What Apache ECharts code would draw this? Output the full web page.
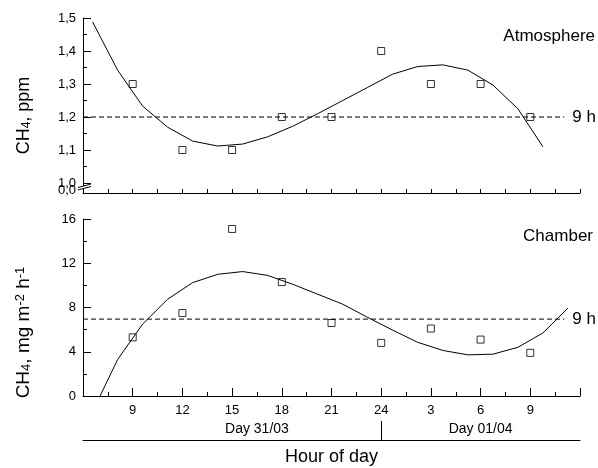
<!DOCTYPE html>
<html><head><meta charset="utf-8">
<script src="https://cdn.jsdelivr.net/npm/echarts@6/dist/echarts.min.js"></script>
<style>html,body{margin:0;padding:0;background:#fff}#c{width:598px;height:468px}</style>
</head><body><div id="c"></div>
<script>
// ---- data ----
const hours = [9, 12, 15, 18, 21, 24, 27, 30, 33];
const hourTickLabels = ['9', '12', '15', '18', '21', '24', '3', '6', '9'];
const atmValues = [1.3, 1.1, 1.1, 1.2, 1.2, 1.4, 1.3, 1.3, 1.2];
const chamberValues = [5.3, 7.5, 15.1, 10.3, 6.6, 4.8, 6.1, 5.1, 3.9];
const atmFitHours = [6.58, 8.09, 9.6, 11.11, 12.62, 14.13, 15.64, 17.15, 18.66, 20.17, 21.68, 23.19, 24.7, 26.21, 27.72, 29.23, 30.74, 32.25, 33.76];
const atmFit = [1.488, 1.342, 1.233, 1.169, 1.127, 1.112, 1.118, 1.140, 1.172, 1.21, 1.25, 1.29, 1.33, 1.353, 1.358, 1.342, 1.297, 1.225, 1.11];
const chamberFitHours = [7.03, 8.09, 9.6, 11.11, 12.62, 14.13, 15.64, 17.15, 18.66, 20.17, 21.68, 23.19, 24.7, 26.21, 27.72, 29.23, 30.74, 32.25, 33.76, 35.27];
const chamberFit = [0, 3.3, 6.5, 8.75, 10.25, 11.0, 11.25, 10.9, 10.1, 9.2, 8.3, 7.1, 5.95, 4.85, 4.12, 3.72, 3.78, 4.4, 5.7, 7.95];
const refHours = [6, 35.05];
const atmRef = 1.2;
const chamberRef = 6.95;
const refLabel = '9 h';
const atmYLabels = [1.0, 1.1, 1.2, 1.3, 1.4, 1.5];
const atmYMinorTicks = [1.05, 1.15, 1.25, 1.35, 1.45];
const atmYBase = 0.9697;
const atmYBaseLabel = '0,0';
const dayLabels = ['Day 31/03', 'Day 01/04'];
const dayLabelHours = [16.5, 30];
const dayBoundary = 24;

const FONT = "'Liberation Sans', Arial, sans-serif";
const zip = (a, b) => a.map((v, i) => [v, b[i]]);
const black = '#000';
const lineAx = { show: true, lineStyle: { color: black, width: 1 } };

const chart = echarts.init(document.getElementById('c'));
const option = {
  animation: false,
  textStyle: { fontFamily: FONT, color: black },
  title: [
    { text: 'Atmosphere', right: 3, top: 28, padding: 0, textStyle: { fontFamily: FONT, fontSize: 17, fontWeight: 'normal', color: black } },
    { text: 'Chamber', right: 5, top: 228, padding: 0, textStyle: { fontFamily: FONT, fontSize: 17, fontWeight: 'normal', color: black } }
  ],
  grid: [
    { left: 83, right: 18, top: 18, height: 175 },
    { left: 83, right: 18, top: 219, height: 177 }
  ],
  xAxis: [
    { type: 'value', gridIndex: 0, min: 6, max: 36, interval: 1.5, axisLine: lineAx,
      axisTick: { inside: true, length: 4, lineStyle: { color: black } }, axisLabel: { show: false }, splitLine: { show: false } },
    { type: 'value', gridIndex: 1, min: 6, max: 36, interval: 3, axisLine: lineAx,
      axisTick: { inside: true, length: 8, lineStyle: { color: black } },
      minorTick: { show: true, splitNumber: 2, length: 4, lineStyle: { color: black } },
      axisLabel: { showMinLabel: false, showMaxLabel: false, fontFamily: FONT, fontSize: 13, color: black, margin: 8,
        formatter: v => { const i = hours.indexOf(v); return i >= 0 ? hourTickLabels[i] : ''; } },
      splitLine: { show: false } },
    { type: 'value', gridIndex: 1, min: 6, max: 36, position: 'bottom', offset: 44, axisLine: lineAx,
      axisTick: { show: true, inside: true, length: 19, customValues: [dayBoundary], lineStyle: { color: black } },
      axisLabel: { inside: true, customValues: dayLabelHours, fontFamily: FONT, fontSize: 14, color: black, margin: 4,
        formatter: v => dayLabels[dayLabelHours.indexOf(v)] },
      splitLine: { show: false },
      name: 'Hour of day', nameLocation: 'middle', nameGap: 8,
      nameTextStyle: { fontFamily: FONT, fontSize: 18, color: black, verticalAlign: 'top' } }
  ],
  yAxis: [
    { type: 'value', gridIndex: 0, position: 'left', min: atmYBase, max: 1.5, axisLine: lineAx,
      axisTick: { inside: true, length: 8, customValues: atmYLabels, lineStyle: { color: black } },
      axisLabel: { customValues: atmYLabels, fontFamily: FONT, fontSize: 13, color: black, margin: 7,
        formatter: v => v.toFixed(1).replace('.', ',') },
      splitLine: { show: false },
      name: 'CH{sub|4}, ppm', nameLocation: 'middle', nameGap: 50, nameRotate: 90,
      nameTextStyle: { fontFamily: FONT, fontSize: 18, color: black, padding: [0, 20, 0, 0],
        rich: { sub: { fontFamily: FONT, fontSize: 12, verticalAlign: 'bottom', lineHeight: 12 } } } },
    { type: 'value', gridIndex: 0, position: 'left', offset: 0, min: atmYBase, max: 1.5, axisLine: { show: false },
      axisTick: { inside: true, length: 4, customValues: atmYMinorTicks, lineStyle: { color: black } },
      axisLabel: { customValues: [0.9788], formatter: () => atmYBaseLabel, fontFamily: FONT, fontSize: 13, color: black, margin: 7 },
      splitLine: { show: false } },
    { type: 'value', gridIndex: 1, min: 0, max: 16, interval: 4, axisLine: lineAx,
      axisTick: { inside: true, length: 8, lineStyle: { color: black } },
      minorTick: { show: true, splitNumber: 2, length: 4, lineStyle: { color: black } },
      axisLabel: { fontFamily: FONT, fontSize: 13, color: black, margin: 7 },
      splitLine: { show: false },
      name: 'CH{sub|4}, mg m{sup|-2} h{sup|-1}', nameLocation: 'middle', nameGap: 50, nameRotate: 90,
      nameTextStyle: { fontFamily: FONT, fontSize: 19, color: black, padding: [0, 50, 0, 0],
        rich: { sub: { fontFamily: FONT, fontSize: 13, verticalAlign: 'bottom', lineHeight: 12 },
                sup: { fontFamily: FONT, fontSize: 13, verticalAlign: 'top', lineHeight: 12 } } } }
  ],
  series: [
    { type: 'line', xAxisIndex: 0, yAxisIndex: 0, data: zip(atmFitHours, atmFit), symbol: 'none',
      lineStyle: { color: black, width: 1 }, z: 2 },
    { type: 'line', xAxisIndex: 0, yAxisIndex: 0, data: zip(refHours, [atmRef, atmRef]), symbol: 'none',
      lineStyle: { color: black, width: 1, type: [5, 3] },
      endLabel: { show: true, formatter: refLabel, fontFamily: FONT, fontSize: 17, color: black, distance: 8 }, z: 2 },
    { type: 'scatter', xAxisIndex: 0, yAxisIndex: 0, data: zip(hours, atmValues), symbol: 'rect', symbolSize: 7,
      itemStyle: { color: 'rgba(0,0,0,0)', borderColor: black, borderWidth: 1 }, z: 3 },
    { type: 'line', xAxisIndex: 1, yAxisIndex: 2, data: zip(chamberFitHours, chamberFit), symbol: 'none',
      lineStyle: { color: black, width: 1 }, z: 2 },
    { type: 'line', xAxisIndex: 1, yAxisIndex: 2, data: zip(refHours, [chamberRef, chamberRef]), symbol: 'none',
      lineStyle: { color: black, width: 1, type: [5, 3] },
      endLabel: { show: true, formatter: refLabel, fontFamily: FONT, fontSize: 17, color: black, distance: 8 }, z: 2 },
    { type: 'scatter', xAxisIndex: 1, yAxisIndex: 2, data: zip(hours, chamberValues), symbol: 'rect', symbolSize: 7,
      itemStyle: { color: 'rgba(0,0,0,0)', borderColor: black, borderWidth: 1 }, z: 3 }
  ]
};
chart.setOption(option);

// axis break marks on the top y axis (positions from the library's own scale)
const bp = chart.convertToPixel({ xAxisIndex: 0, yAxisIndex: 0 }, [6, 0.9909]);
const bx = bp[0], by = bp[1];
chart.setOption({
  graphic: [
    { type: 'polygon', z: 100, shape: { points: [[bx - 5, by + 1.5], [bx + 8, by - 2], [bx + 8, by + 0.5], [bx - 5, by + 4]] }, style: { fill: '#fff' } },
    { type: 'line', z: 101, shape: { x1: bx - 5, y1: by + 1.5, x2: bx + 8, y2: by - 2 }, style: { stroke: black, lineWidth: 1 } },
    { type: 'line', z: 101, shape: { x1: bx - 5, y1: by + 4, x2: bx + 8, y2: by + 0.5 }, style: { stroke: black, lineWidth: 1 } }
  ]
});
</script></body></html>
